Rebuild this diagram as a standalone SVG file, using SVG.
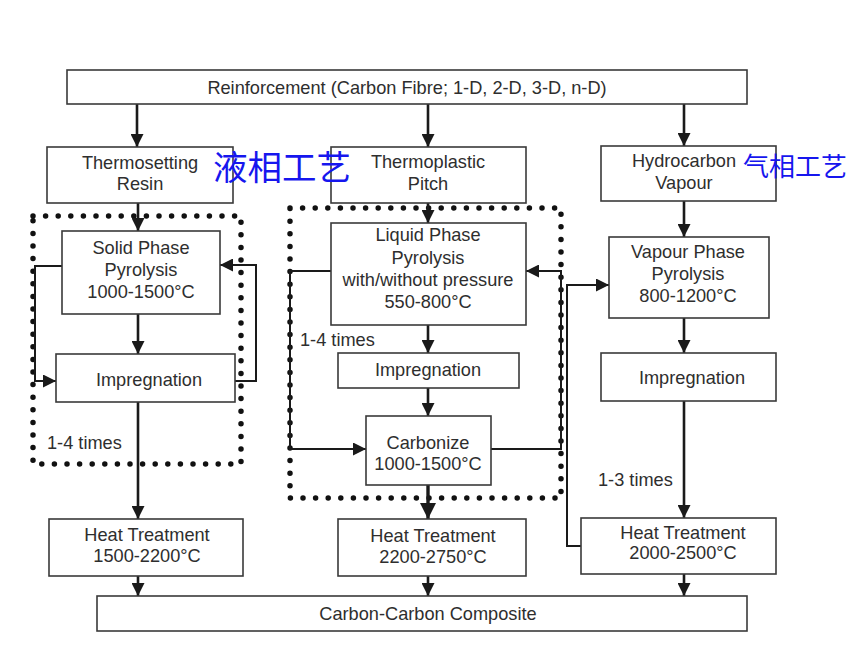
<svg xmlns="http://www.w3.org/2000/svg" width="848" height="652" viewBox="0 0 848 652">
<style>
.box{fill:#fff;stroke:#3a3a3a;stroke-width:1.6}
.t{font-family:"Liberation Sans",Arial,sans-serif;font-size:18.2px;fill:#2e2e2e;text-anchor:middle}
.tl{text-anchor:start}
.cn{font-family:"Noto Sans CJK SC",sans-serif;fill:#1616ee}
.dot{fill:none;stroke:#111;stroke-width:5.5;stroke-linecap:round;stroke-dasharray:0 12.6}
.ln{stroke:#1a1a1a;stroke-width:2.6;fill:none}
.lp{stroke:#1a1a1a;stroke-width:2;fill:none}
</style>
<defs>
<marker id="ah" viewBox="0 0 10 10" refX="10" refY="5" markerWidth="13" markerHeight="13" markerUnits="userSpaceOnUse" orient="auto">
<path d="M0,0 L10,5 L0,10 z" fill="#1a1a1a"/>
</marker>
<marker id="ahb" viewBox="0 0 10 10" refX="10" refY="5" markerWidth="16" markerHeight="16" markerUnits="userSpaceOnUse" orient="auto">
<path d="M0,0 L10,5 L0,10 z" fill="#1a1a1a"/>
</marker>
</defs>
<rect width="848" height="652" fill="#fff"/>

<g id="groups">
<rect class="dot" x="33" y="216" width="208" height="248"/>
<rect class="dot" x="290" y="208" width="271" height="290"/>
</g>

<g id="connectors">
<line class="ln" x1="137" y1="104" x2="137" y2="147" marker-end="url(#ah)"/>
<line class="ln" x1="428" y1="104" x2="428" y2="147" marker-end="url(#ah)"/>
<line class="ln" x1="684" y1="104" x2="684" y2="146" marker-end="url(#ah)"/>
<line class="ln" x1="138" y1="203" x2="138" y2="231" marker-end="url(#ah)"/>
<line class="ln" x1="138" y1="314" x2="138" y2="354" marker-end="url(#ah)"/>
<line class="ln" x1="138" y1="402" x2="138" y2="519" marker-end="url(#ah)"/>
<line class="ln" x1="138" y1="576" x2="138" y2="596" marker-end="url(#ah)"/>
<polyline class="lp" points="62,266 35,266 35,381 56,381" marker-end="url(#ah)"/>
<polyline class="lp" points="235,381 256,381 256,265 220,265" marker-end="url(#ah)"/>
<line class="ln" x1="428" y1="203" x2="428" y2="223" marker-end="url(#ah)"/>
<line class="ln" x1="428" y1="325" x2="428" y2="353" marker-end="url(#ah)"/>
<line class="ln" x1="428" y1="388" x2="428" y2="416" marker-end="url(#ah)"/>
<line class="ln" x1="428" y1="485" x2="428" y2="519" marker-end="url(#ahb)" style="stroke-width:3.4"/>
<line class="ln" x1="428" y1="576" x2="428" y2="596" marker-end="url(#ah)"/>
<polyline class="lp" points="331,271 290,271 290,449 366,449" marker-end="url(#ah)"/>
<polyline class="lp" points="491,449 561,449 561,271 526,271" marker-end="url(#ah)"/>
<line class="ln" x1="684" y1="201" x2="684" y2="237" marker-end="url(#ah)"/>
<line class="ln" x1="684" y1="318" x2="684" y2="353" marker-end="url(#ah)"/>
<line class="ln" x1="684" y1="401" x2="684" y2="518" marker-end="url(#ah)"/>
<line class="ln" x1="684" y1="574" x2="684" y2="596" marker-end="url(#ah)"/>
<polyline class="lp" points="581,546 567,546 567,285 609,285" marker-end="url(#ah)"/>
</g>

<g id="reinforcement">
<rect class="box" x="67" y="70" width="680" height="34"/>
<text class="t" x="407" y="94">Reinforcement (Carbon Fibre; 1-D, 2-D, 3-D, n-D)</text>
</g>
<g id="thermosetting">
<rect class="box" x="47" y="147" width="186" height="56"/>
<text class="t" x="140" y="169">Thermosetting</text>
<text class="t" x="140" y="190">Resin</text>
</g>
<g id="thermoplastic">
<rect class="box" x="331" y="147" width="195" height="56"/>
<text class="t" x="428" y="168">Thermoplastic</text>
<text class="t" x="428" y="190">Pitch</text>
</g>
<g id="hydrocarbon">
<rect class="box" x="601" y="146" width="175" height="55"/>
<text class="t" x="684" y="167">Hydrocarbon</text>
<text class="t" x="684" y="189">Vapour</text>
</g>
<g id="solid-phase">
<rect class="box" x="62" y="231" width="158" height="83"/>
<text class="t" x="141" y="254">Solid Phase</text>
<text class="t" x="141" y="276">Pyrolysis</text>
<text class="t" x="141" y="298">1000-1500°C</text>
</g>
<g id="impregnation-left">
<rect class="box" x="56" y="354" width="179" height="48"/>
<text class="t" x="149" y="386">Impregnation</text>
</g>
<g id="liquid-phase">
<rect class="box" x="331" y="223" width="195" height="102"/>
<text class="t" x="428" y="241">Liquid Phase</text>
<text class="t" x="428" y="264">Pyrolysis</text>
<text class="t" x="428" y="286">with/without pressure</text>
<text class="t" x="428" y="308">550-800°C</text>
</g>
<g id="impregnation-mid">
<rect class="box" x="338" y="353" width="181" height="35"/>
<text class="t" x="428" y="376">Impregnation</text>
</g>
<g id="carbonize">
<rect class="box" x="366" y="416" width="125" height="69"/>
<text class="t" x="428" y="449">Carbonize</text>
<text class="t" x="428" y="470">1000-1500°C</text>
</g>
<g id="vapour-phase">
<rect class="box" x="609" y="237" width="160" height="81"/>
<text class="t" x="688" y="258">Vapour Phase</text>
<text class="t" x="688" y="280">Pyrolysis</text>
<text class="t" x="688" y="302">800-1200°C</text>
</g>
<g id="impregnation-right">
<rect class="box" x="601" y="353" width="175" height="48"/>
<text class="t" x="692" y="384">Impregnation</text>
</g>
<g id="heat-1">
<rect class="box" x="49" y="519" width="194" height="57"/>
<text class="t" x="147" y="541">Heat Treatment</text>
<text class="t" x="147" y="562">1500-2200°C</text>
</g>
<g id="heat-2">
<rect class="box" x="338" y="519" width="188" height="57"/>
<text class="t" x="433" y="542">Heat Treatment</text>
<text class="t" x="433" y="563">2200-2750°C</text>
</g>
<g id="heat-3">
<rect class="box" x="581" y="518" width="195" height="56"/>
<text class="t" x="683" y="539">Heat Treatment</text>
<text class="t" x="683" y="559">2000-2500°C</text>
</g>
<g id="composite">
<rect class="box" x="97" y="596" width="650" height="35"/>
<text class="t" x="428" y="620">Carbon-Carbon Composite</text>
</g>

<g id="labels">
<text class="t tl" x="47" y="449">1-4 times</text>
<text class="t tl" x="300" y="346">1-4 times</text>
<text class="t tl" x="598" y="486">1-3 times</text>
<text class="cn" x="213" y="180" font-size="34.5">液相工艺</text>
<text class="cn" x="743" y="176" font-size="26">气相工艺</text>
</g>
</svg>
